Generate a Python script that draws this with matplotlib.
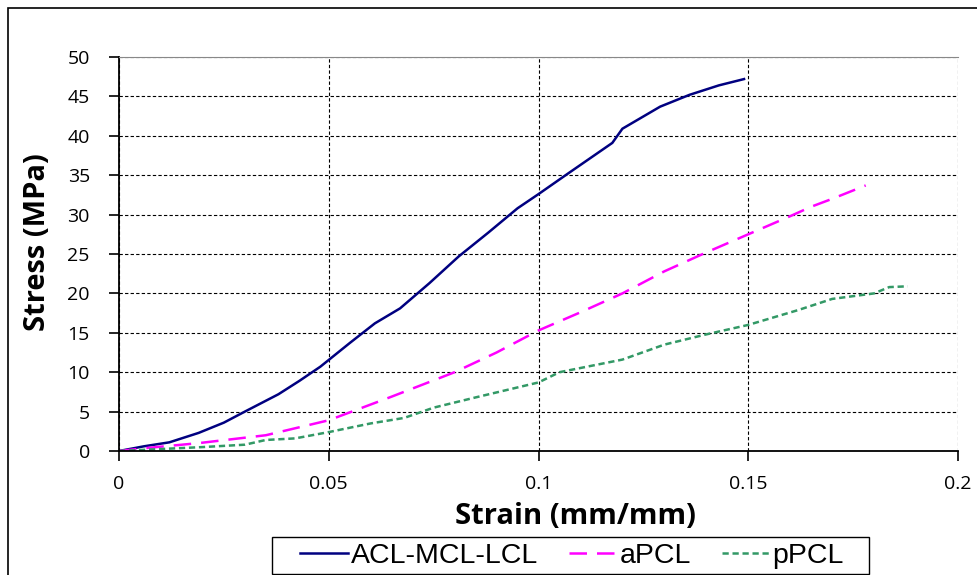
import numpy as np
from matplotlib import pyplot as plt
from matplotlib.patches import Rectangle

# stress-strain curves
acl_strain = [0, 0.006, 0.012, 0.019, 0.025, 0.030, 0.034, 0.038, 0.043, 0.048, 0.055,
              0.061, 0.067, 0.074, 0.081, 0.088, 0.095, 0.100, 0.107, 0.1176, 0.120,
              0.129, 0.136, 0.143, 0.149]
acl_stress = [0, 0.6, 1.1, 2.3, 3.6, 5.0, 6.1, 7.2, 8.9, 10.7, 13.7,
              16.2, 18.1, 21.3, 24.7, 27.7, 30.8, 32.6, 35.2, 39.1, 40.9,
              43.7, 45.2, 46.4, 47.2]

apcl_strain = [0, 0.007, 0.019, 0.035, 0.050, 0.065, 0.080, 0.090, 0.100, 0.110, 0.120,
               0.130, 0.140, 0.150, 0.160, 0.165, 0.170, 0.178]
apcl_stress = [0, 0.4, 1.0, 2.0, 3.9, 6.9, 10.0, 12.5, 15.3, 17.6, 20.0,
               22.8, 25.2, 27.5, 29.8, 31.0, 32.0, 33.7]

ppcl_strain = [0, 0.020, 0.030, 0.035, 0.042, 0.050, 0.060, 0.068, 0.075, 0.085, 0.100,
               0.105, 0.120, 0.130, 0.140, 0.150, 0.162, 0.170, 0.180, 0.1836, 0.188]
ppcl_stress = [0, 0.5, 0.8, 1.4, 1.6, 2.4, 3.5, 4.2, 5.5, 6.8, 8.7,
               10.0, 11.6, 13.5, 14.8, 16.0, 17.9, 19.3, 20.0, 20.8, 20.9]

xticks = [0, 0.05, 0.1, 0.15, 0.2]
xtick_labels = ['0', '0.05', '0.1', '0.15', '0.2']
yticks = list(range(0, 55, 5))

W, H = 977, 575
fig = plt.figure(figsize=(9.77, 5.75), dpi=100)
ax = fig.add_axes([119/W, 1-451/H, (958-119)/W, (451-57)/H])

# outer chart border
fig.patches.append(Rectangle((8/W, -0.1), 1.2, 1-8/H+0.1, transform=fig.transFigure,
                             fill=False, edgecolor='black', linewidth=1.2))
# legend box
fig.patches.append(Rectangle((272/W, 1-574/H), (869-272)/W, (574-537)/H, transform=fig.transFigure,
                             fill=False, edgecolor='black', linewidth=1.0))

ax.plot(acl_strain, acl_stress, color='#000080', lw=1.8, label='ACL-MCL-LCL')
ax.plot(apcl_strain, apcl_stress, color='#FF00FF', lw=1.8, dashes=(7, 4), label='aPCL')
ax.plot(ppcl_strain, ppcl_stress, color='#339966', lw=1.8, dashes=(2.5, 1.5), label='pPCL')

ax.set_xlim(0, 0.2)
ax.set_ylim(0, 50)
ax.set_xticks(xticks)
ax.set_xticklabels(xtick_labels)
ax.set_yticks(yticks)
ax.grid(True, color='black', linestyle=(0, (3, 2)), linewidth=0.8)
ax.set_axisbelow(True)

ax.spines['top'].set_color('#888888')
ax.spines['right'].set_visible(False)
ax.spines['left'].set_linewidth(1.3)
ax.spines['bottom'].set_linewidth(1.3)
ax.tick_params(direction='out', length=7, width=1.2, labelsize=14)
for lab in ax.get_xticklabels() + ax.get_yticklabels():
    lab.set_family('Open Sans')
ax.tick_params(axis='x', pad=10)
ax.tick_params(axis='y', pad=14)

ax.set_xlabel('Strain (mm/mm)', fontsize=21, fontweight='bold', family='Open Sans',
              va='center', ha='center')
ax.xaxis.set_label_coords((575-119)/839, (451-517)/394)
ax.set_ylabel('Stress (MPa)', fontsize=21, fontweight='bold', family='Open Sans',
              va='center', ha='center')
ax.yaxis.set_label_coords((38-119)/839, (451-242)/394)

leg = ax.legend(loc='center', bbox_to_anchor=(572/W, 1-556/H), bbox_transform=fig.transFigure,
                ncol=3, frameon=False, prop={'family': 'Liberation Sans', 'size': 20.5},
                handlelength=1.68, handletextpad=0.1, columnspacing=1.09, borderpad=0.1)

fig.savefig('out.png', dpi=100)
